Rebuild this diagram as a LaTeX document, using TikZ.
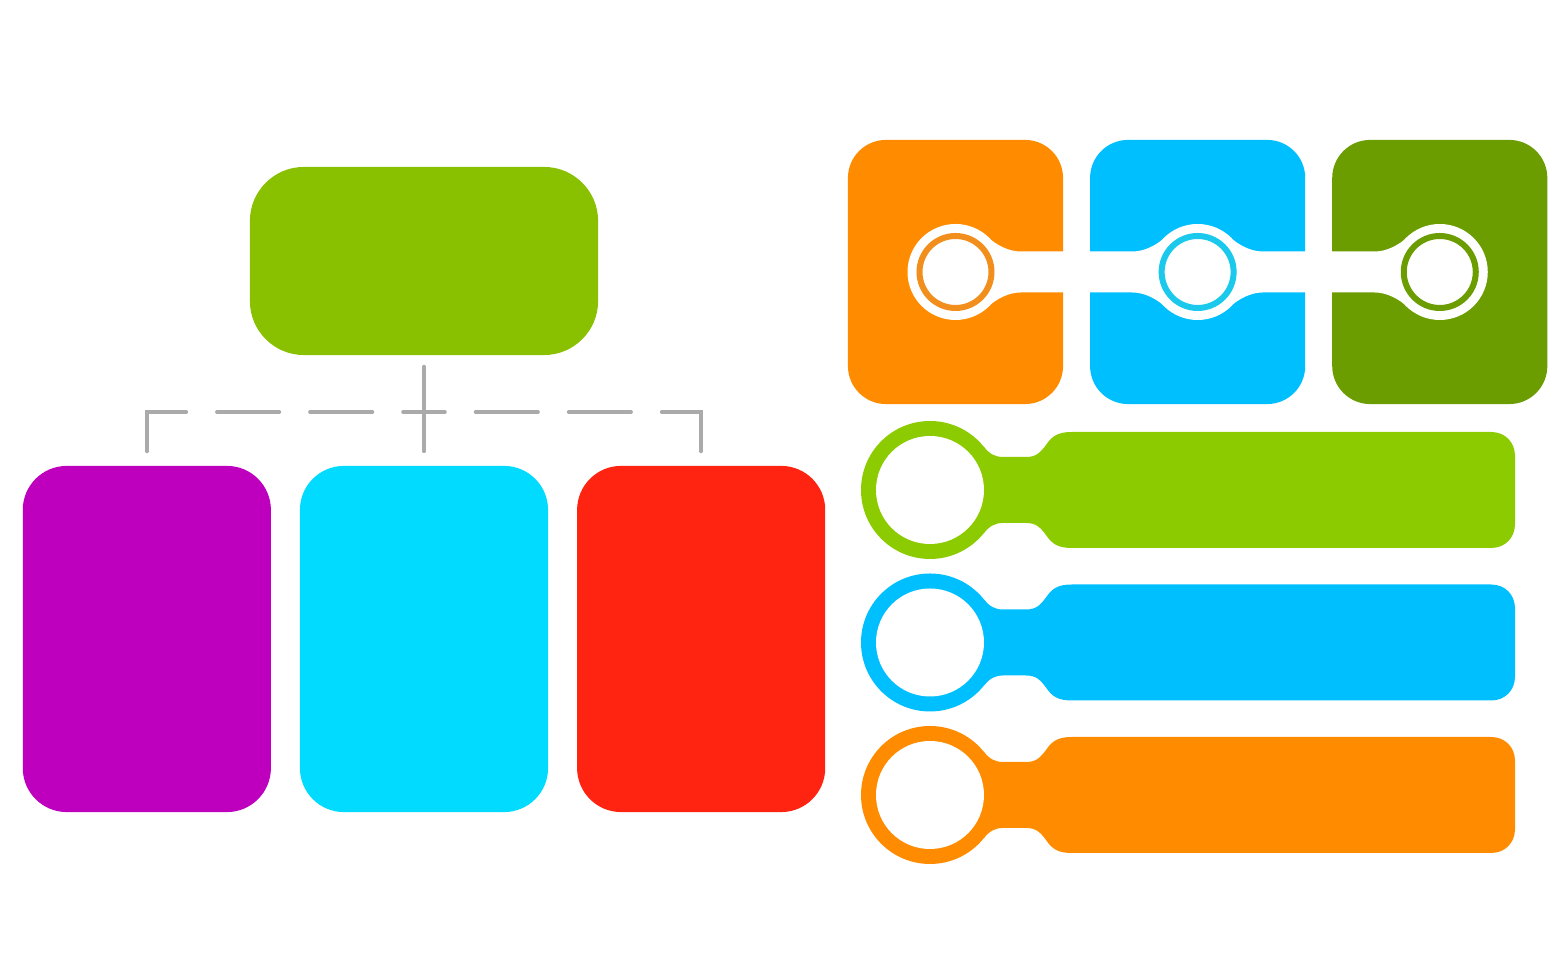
\documentclass[tikz,border=0pt]{standalone}
\usetikzlibrary{positioning}

\definecolor{leafGreen}{HTML}{89C000}
\definecolor{skyCyan}{HTML}{00DBFF}
\definecolor{plum}{HTML}{BE00BE}
\definecolor{brick}{HTML}{FF2312}
\definecolor{linkGray}{HTML}{AAAAAA}
\definecolor{tileOrange}{HTML}{FF8C00}
\definecolor{tileBlue}{HTML}{00BFFF}
\definecolor{tileGreen}{HTML}{6B9C00}
\definecolor{ringOrange}{HTML}{F28F1C}
\definecolor{ringBlue}{HTML}{1AC9EC}
\definecolor{barGreen}{HTML}{8CCB00}

\begin{document}
\begin{tikzpicture}[x=0.01cm,y=-0.01cm,
  card/.style={rounded corners=0.44cm,minimum width=2.48cm,minimum height=3.46cm,inner sep=0pt,outer sep=0pt},
  tile/.style={rounded corners=0.38cm,minimum width=2.15cm,minimum height=2.64cm,inner sep=0pt,outer sep=0pt},
  link/.style={draw=linkGray,line width=0.035cm,line cap=round},
  bus dash/.style={dash pattern=on 0.21cm off 0.305cm on 0.625cm off 0.305cm on 0.625cm off 0.305cm on 2cm}]
  \useasboundingbox (0,0) rectangle (1568,980);

  % org chart
  \node[card,fill=leafGreen,rounded corners=0.54cm,minimum width=3.48cm,minimum height=1.88cm] (boss) at (424,261) {};
  \node[card,fill=skyCyan] (subB) at (424,639) {};
  \node[card,fill=plum,left=0.29cm of subB] (subA) {};
  \node[card,fill=brick,right=0.29cm of subB] (subC) {};
  \coordinate (bus) at (424,412);
  \draw[link,shorten <=0.115cm,shorten >=0.145cm] (boss) -- (subB);
  \draw[link,bus dash,shorten >=0.145cm] (bus) -| (subA.north);
  \draw[link,bus dash,shorten >=0.145cm] (bus) -| (subC.north);

  % linked tiles
  \node[tile,fill=tileOrange] (tileA) at (955.5,272) {};
  \node[tile,fill=tileBlue,right=0.27cm of tileA] (tileB) {};
  \node[tile,fill=tileGreen,right=0.27cm of tileB] (tileC) {};
  \foreach \t/\ring/\sides in {tileA/ringOrange/{1},tileB/ringBlue/{-1,1},tileC/tileGreen/{-1}} {
    \begin{scope}[shift={(\t.center)}]
      \fill[white] (0,0) circle (48);
      \foreach \s in \sides
        \fill[white,xscale=\s] (32,-35) .. controls (41,-27) and (53,-20.5) .. (65,-20.5)
          -- (110,-20.5) -- (110,20.5) -- (65,20.5) .. controls (53,20.5) and (41,27) .. (32,35) -- cycle;
      \draw[\ring,line width=0.06cm] (0,0) circle (36);
    \end{scope}
  }

  % tag bars
  \foreach \cy/\col in {490/barGreen,642.5/tileBlue,795/tileOrange} {
    \begin{scope}[shift={(930,\cy)}]
      \fill[\col] (0,0) circle (69);
      \fill[\col] (53.6,-43.4) .. controls (59.6,-36) and (65,-33) .. (73,-33) -- (96,-33)
        .. controls (106,-33) and (110,-37) .. (116,-45) .. controls (122,-54) and (128,-58) .. (142,-58)
        -- (561,-58) .. controls (575,-58) and (585,-48) .. (585,-34) -- (585,34)
        .. controls (585,48) and (575,58) .. (561,58) -- (142,58)
        .. controls (128,58) and (122,54) .. (116,45) .. controls (110,37) and (106,33) .. (96,33)
        -- (73,33) .. controls (65,33) and (59.6,36) .. (53.6,43.4) -- cycle;
      \fill[white] (0,0) circle (54);
    \end{scope}
  }
\end{tikzpicture}
\end{document}
